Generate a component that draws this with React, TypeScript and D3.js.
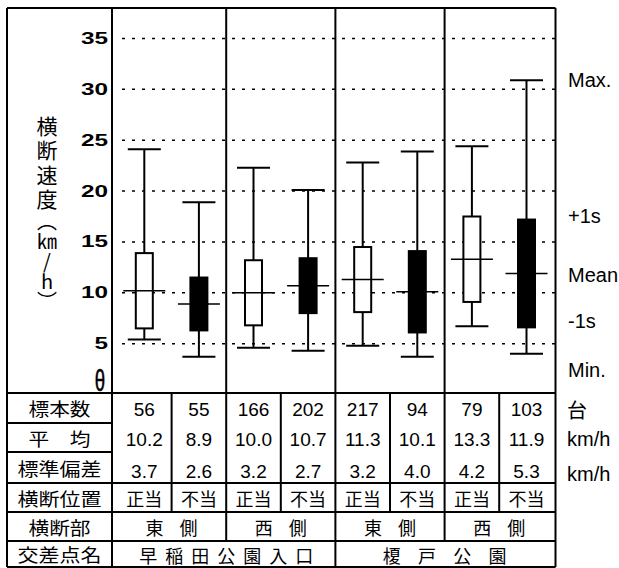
import React from "react";
import * as d3 from "d3";

// ---- data ----
const sampleCounts = [56, 55, 166, 202, 217, 94, 79, 103];
const means = [10.2, 8.9, 10.0, 10.7, 11.3, 10.1, 13.3, 11.9];
const stdDevs = [3.7, 2.6, 3.2, 2.7, 3.2, 4.0, 4.2, 5.3];
const maxima = [24.1, 18.9, 22.3, 20.1, 22.8, 23.9, 24.4, 30.9];
const minima = [5.4, 3.7, 4.6, 4.3, 4.8, 3.7, 6.7, 4.0];
const crossingPositions = ["正当", "不当", "正当", "不当", "正当", "不当", "正当", "不当"];
const crossingSides = ["東側", "西側", "東側", "西側"];
const intersections = ["早稲田公園入口", "榎戸公園"];
const yTicks = [5, 10, 15, 20, 25, 30, 35];
const rowLabels = ["標本数", "平　均", "標準偏差", "横断位置", "横断部", "交差点名"];
const units = ["台", "km/h", "km/h"];
const legendLabels = ["Max.", "+1s", "Mean", "-1s", "Min."];
const yTitleParts = ["横断速度", "（㎞/h）"];

// ---- layout ----
const W = 619;
const H = 568;
const FL = 7; // frame left
const FT = 8; // frame top
const LC = 112; // label column right
const PR = 555.5; // right border
const rowLines = [393, 423, 452, 483, 512, 541, 567];
const LATIN = "'Liberation Sans', Arial, sans-serif";
const CJK = "'Noto Sans CJK JP', sans-serif";

export default function App() {
  const idx = d3.range(sampleCounts.length);
  const x = d3.scaleBand<number>().domain(idx).range([117, 553.8]).padding(0);
  const y = d3.scaleLinear().domain([0, 35]).range([394.5, 38.5]);
  const bw = x.bandwidth();
  const cx = (i: number) => (x(i) as number) + bw / 2;
  const lw = 2;

  const rowCenter = (r: number) => (rowLines[r] + rowLines[r + 1]) / 2;

  const charsAt = (s: string, center: number, pitch: number, yy: number, key: string) => {
    const arr = Array.from(s);
    return (
      <text
        key={key}
        textAnchor="middle"
        dominantBaseline="central"
        fontFamily={CJK}
        fontSize={18}
      >
        {arr.map((ch, k) => (
          <tspan key={k} x={center + (k - (arr.length - 1) / 2) * pitch} y={yy}>
            {ch}
          </tspan>
        ))}
      </text>
    );
  };

  const legendY = [87, 223, 282, 328, 377];
  const rowLabelLen = [62, 62, 84, 84, 62, 84];
  const titleStyle = (size: number, spacing: number): React.CSSProperties => ({
    writingMode: "vertical-rl",
    textOrientation: "upright",
    fontSize: size,
    letterSpacing: spacing,
    fontFamily: CJK,
  });

  return (
    <svg
      width={W}
      height={H}
      style={{ position: "absolute", left: 0, top: 0, background: "#fff" }}
    >
      <rect x={0} y={0} width={W} height={H} fill="#fff" />

      {/* gridlines */}
      {yTicks.map((t) => (
        <line
          key={"g" + t}
          x1={122}
          x2={PR}
          y1={y(t)}
          y2={y(t)}
          stroke="#000"
          strokeWidth={1.5}
          strokeDasharray="3 7"
        />
      ))}

      {/* y tick labels */}
      {yTicks.map((t) => (
        <text
          key={"t" + t}
          x={108}
          y={y(t)}
          textAnchor="end"
          dominantBaseline="central"
          fontFamily={LATIN}
          fontWeight="bold"
          fontSize={16}
          textLength={String(t).length * 13.5}
          lengthAdjust="spacingAndGlyphs"
        >
          {t}
        </text>
      ))}
      <text
        x={100}
        y={391}
        textAnchor="middle"
        fontFamily={LATIN}
        fontSize={22}
        stroke="#000"
        strokeWidth={0.4}
        transform={`translate(100,391) scale(0.85,1.3) translate(-100,-391)`}
      >
        θ
      </text>

      {/* y title (vertical) */}
      <text x={47} y={115.5} style={titleStyle(21, 3.3)}>
        {yTitleParts[0]}
      </text>
      <text x={47} y={211} style={titleStyle(20, 0)}>
        {yTitleParts[1]}
      </text>

      {/* boxes */}
      {idx.map((i) => {
        const c = cx(i);
        const hi = means[i] + stdDevs[i];
        const lo = means[i] - stdDevs[i];
        const filled = i % 2 === 1;
        return (
          <g key={"b" + i} stroke="#000" strokeWidth={lw}>
            <line x1={c} x2={c} y1={y(maxima[i])} y2={y(hi)} />
            <line x1={c} x2={c} y1={y(lo)} y2={y(minima[i])} />
            <line x1={c - 16.5} x2={c + 16.5} y1={y(maxima[i])} y2={y(maxima[i])} />
            <line x1={c - 16.5} x2={c + 16.5} y1={y(minima[i])} y2={y(minima[i])} />
            <rect
              x={c - 8.5}
              y={y(hi)}
              width={17}
              height={y(lo) - y(hi)}
              fill={filled ? "#000" : "#fff"}
            />
            <line x1={c - 21} x2={c + 21} y1={y(means[i])} y2={y(means[i])} strokeWidth={1.5} />
          </g>
        );
      })}

      {/* frame lines */}
      <g stroke="#000" strokeWidth={lw}>
        <line x1={FL} x2={PR} y1={FT} y2={FT} />
        <line x1={FL} x2={FL} y1={FT} y2={567} />
        <line x1={LC} x2={LC} y1={FT} y2={567} />
        <line x1={PR} x2={PR} y1={FT} y2={567} />
        {[2, 6].map((i) => (
          <line key={"gl" + i} x1={x(i) as number} x2={x(i) as number} y1={FT} y2={rowLines[5]} />
        ))}
        <line x1={x(4) as number} x2={x(4) as number} y1={FT} y2={567} />
        {[1, 3, 5, 7].map((i) => (
          <line key={"sl" + i} x1={x(i) as number} x2={x(i) as number} y1={rowLines[0]} y2={rowLines[4]} />
        ))}
        {rowLines.map((ry, r) => (
          <line key={"rl" + r} x1={FL} x2={r === 1 || r === 2 ? LC : PR} y1={ry} y2={ry} />
        ))}
      </g>

      {/* row labels */}
      {rowLabels.map((s, r) => (
        <text
          key={"rlab" + r}
          x={59.5}
          y={rowCenter(r)}
          textAnchor="middle"
          dominantBaseline="central"
          fontFamily={CJK}
          fontSize={18}
          textLength={rowLabelLen[r]}
          lengthAdjust="spacingAndGlyphs"
        >
          {s}
        </text>
      ))}

      {/* numeric rows */}
      {idx.map((i) => (
        <g key={"n" + i} fontFamily={LATIN} fontSize={19} textAnchor="middle">
          <text x={cx(i)} y={416}>{sampleCounts[i]}</text>
          <text x={cx(i)} y={446}>{means[i].toFixed(1)}</text>
          <text x={cx(i)} y={478}>{stdDevs[i].toFixed(1)}</text>
        </g>
      ))}
      {idx.map((i) => charsAt(crossingPositions[i], cx(i), 18, rowCenter(3), "cp" + i))}
      {crossingSides.map((s, g) =>
        charsAt(s, ((x(g * 2) as number) + (x(g * 2 + 1) as number) + bw) / 2, 34, rowCenter(4), "cs" + g)
      )}
      {intersections.map((s, g) =>
        charsAt(
          s,
          ((x(g * 4) as number) + (x(g * 4 + 3) as number) + bw) / 2,
          g === 0 ? 26 : 35.3,
          rowCenter(5) + 1,
          "is" + g
        )
      )}

      {/* units */}
      <text x={567} y={rowCenter(0) + 1} dominantBaseline="central" fontFamily={CJK} fontSize={20}>
        {units[0]}
      </text>
      <text x={567} y={446} fontFamily={LATIN} fontSize={20}>{units[1]}</text>
      <text x={567} y={481} fontFamily={LATIN} fontSize={20}>{units[2]}</text>

      {/* legend labels */}
      {legendLabels.map((s, k) => (
        <text key={"lg" + k} x={568} y={legendY[k]} fontFamily={LATIN} fontSize={20}>
          {s}
        </text>
      ))}
    </svg>
  );
}
